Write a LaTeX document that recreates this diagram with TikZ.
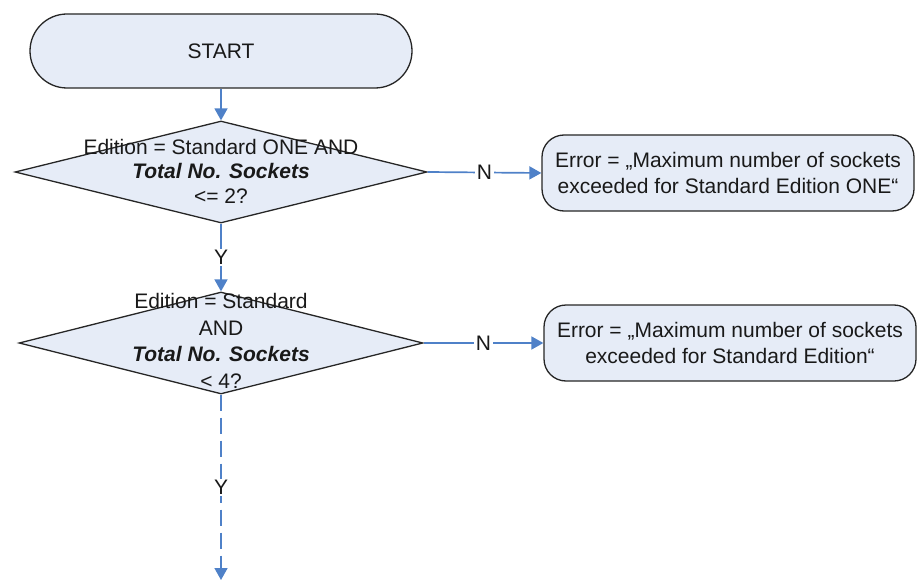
\documentclass[tikz,border=0pt]{standalone}
\usepackage{fontspec}
\setmainfont{Liberation Sans}
\usetikzlibrary{shapes.geometric,shapes.misc,arrows.meta}
\definecolor{boxfill}{HTML}{E6ECF7}
\definecolor{flow}{HTML}{4F81C8}
\begin{document}
\begin{tikzpicture}[x=1pt,y=-1pt,
  every node/.style={font=\fontsize{21}{26.5}\selectfont, text=black!90},
  term/.style={draw=black!85, line width=1.3pt, fill=boxfill, rounded rectangle, minimum width=382pt, minimum height=74pt, inner sep=0pt},
  decide/.style={draw=black!85, line width=1.3pt, fill=boxfill, diamond, minimum width=#1, minimum height=102pt, inner sep=0pt},
  errbox/.style={draw=black!85, line width=1.3pt, fill=boxfill, rounded corners=22pt, minimum width=372pt, minimum height=76pt, inner sep=0pt, align=center},
  dtext/.style={align=center, inner sep=0pt},
  flowline/.style={draw=flow, line width=1.7pt, -{Triangle[length=12pt,width=13pt]}},
  lab/.style={fill=white, inner sep=1.5pt}
]
\useasboundingbox (0,0) rectangle (917,580);

\node[term] (start) at (221,51) {START};

\node[decide=412pt] (d1) at (221,172) {};
\node[dtext, font=\fontsize{21}{24.5}\selectfont] (t1) at (221,171) {Edition = Standard ONE AND\\\textbf{\textit{Total No. Sockets}}\\<= 2?};

\node[decide=404pt] (d2) at (221,343) {};
\node[dtext] (t2) at (221,341) {Edition = Standard\\AND\\\textbf{\textit{Total No. Sockets}}\\< 4?};

\node[errbox] (e1) at (728,173) {Error = „Maximum number of sockets\\exceeded for Standard Edition ONE“};
\node[errbox] (e2) at (730,343) {Error = „Maximum number of sockets\\exceeded for Standard Edition“};

\coordinate (endc) at (221,580);

\draw[flowline] (start.south) -- (d1.north);
\draw[flowline] (d1.east) -- node[lab] {N} (e1.west);
\draw[flowline] (d1.south) -- node[lab, pos=0.5] {Y} (d2.north);
\draw[flowline] (d2.east) -- node[lab] {N} (e2.west);
\draw[flowline, dash pattern=on 16pt off 7pt] (d2.south) -- node[lab, pos=0.5] {Y} (endc);
\end{tikzpicture}
\end{document}
